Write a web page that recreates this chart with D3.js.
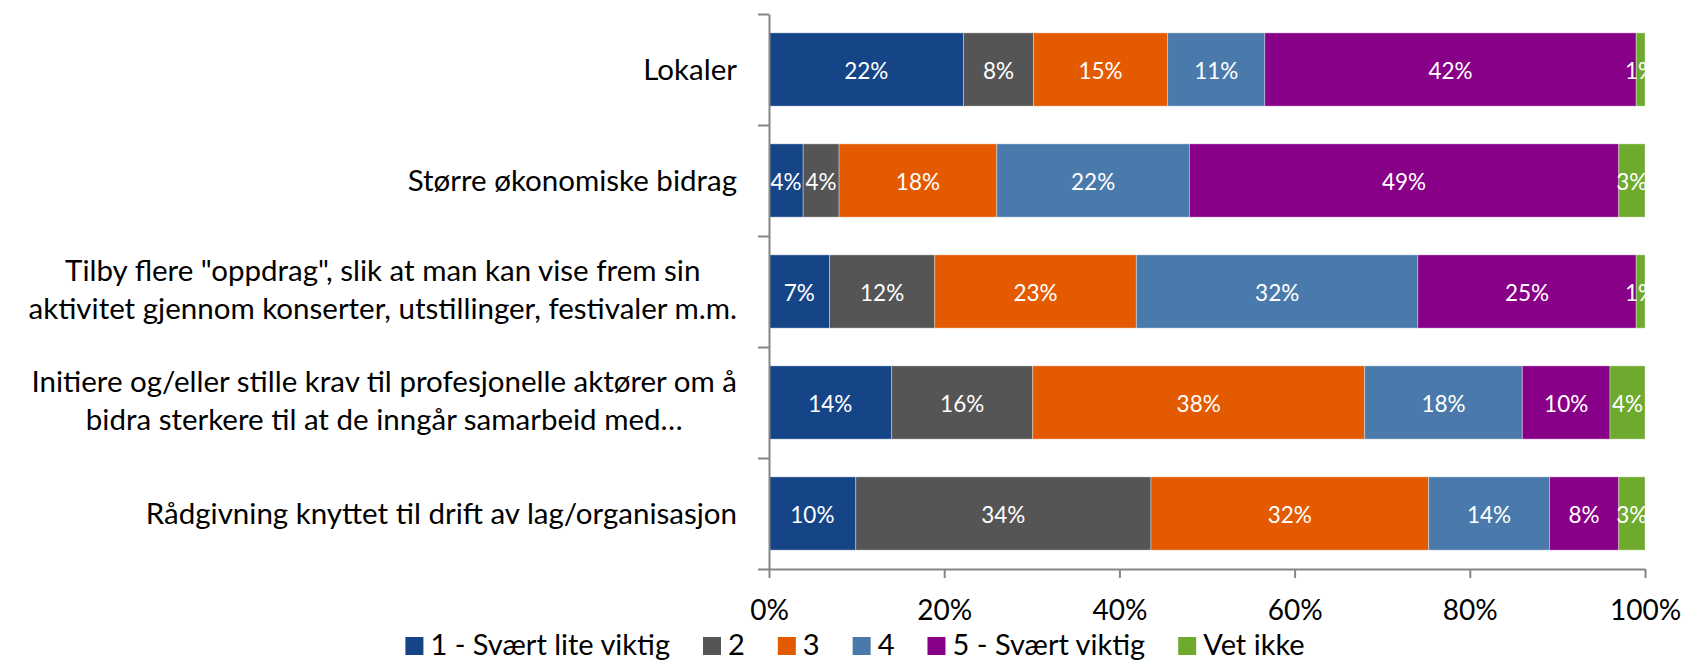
<!DOCTYPE html>
<html lang="no">
<head>
  <meta charset="UTF-8" />
  <title>Viktighet</title>
  <style>
    body { margin: 0; background: #fff; }
    svg text { font-family: Lato, "Open Sans", sans-serif; }
  </style>
</head>
<body>
  <svg id="chart" width="1684" height="660"></svg>

  <script src="https://d3js.org/d3.v7.min.js"></script>
  <script>
    // categories (each one split into the lines shown in the chart)
    const categories = [
      ["Lokaler"],
      ["Større økonomiske bidrag"],
      ["Tilby flere \"oppdrag\", slik at man kan vise frem sin", "aktivitet gjennom konserter, utstillinger, festivaler m.m."],
      ["Initiere og/eller stille krav til profesjonelle aktører om å", "bidra sterkere til at de inngår samarbeid med…"],
      ["Rådgivning knyttet til drift av lag/organisasjon"]
    ];
    const seriesNames = ["1 - Svært lite viktig", "2", "3", "4", "5 - Svært viktig", "Vet ikke"];
    const colors = ["#164587", "#555555", "#e35a00", "#4a7aab", "#890088", "#6eaa2e"];

    // percent values per series, one per category
    const svartLite = [22.2, 3.9, 6.9, 14.0, 9.9];
    const to = [8.0, 4.1, 12.0, 16.1, 33.7];
    const tre = [15.3, 18.0, 23.0, 37.9, 31.7];
    const fire = [11.1, 22.0, 32.1, 18.0, 13.8];
    const svartViktig = [42.4, 49.0, 24.9, 10.0, 7.9];
    const vetIkke = [1.0, 3.0, 1.0, 4.0, 3.0];
    const seriesValues = [svartLite, to, tre, fire, svartViktig, vetIkke];
    const xTicks = [0, 0.2, 0.4, 0.6, 0.8, 1];

    const svg = d3.select("#chart");
    const plotL = 769, plotR = 1645, plotT = 14, plotB = 569;

    const rows = categories.map((c, i) => {
      const r = { key: i };
      seriesNames.forEach((s, j) => { r[s] = seriesValues[j][i]; });
      return r;
    });

    const stacked = d3.stack()
      .keys(seriesNames)
      .offset(d3.stackOffsetExpand)(rows);

    const x = d3.scaleLinear().domain([0, 1]).range([plotL, plotR]);
    const y = d3.scaleBand()
      .domain(categories.map((c, i) => i))
      .range([plotT, plotB])
      .paddingInner(0.34)
      .paddingOuter(0.17);

    svg.append("clipPath").attr("id", "plotclip")
      .append("rect")
      .attr("x", plotL).attr("y", plotT)
      .attr("width", plotR - plotL).attr("height", plotB - plotT);

    const layer = svg.append("g")
      .selectAll("g")
      .data(stacked)
      .join("g")
      .attr("fill", (d, i) => colors[i]);

    layer.selectAll("rect")
      .data(d => d)
      .join("rect")
      .attr("x", d => x(d[0]))
      .attr("y", d => y(d.data.key))
      .attr("width", d => x(d[1]) - x(d[0]))
      .attr("height", y.bandwidth())
      .attr("stroke", "#fff")
      .attr("stroke-opacity", 0.35)
      .attr("stroke-width", 1);

    // value labels inside the segments
    const labels = svg.append("g").attr("clip-path", "url(#plotclip)");
    stacked.forEach((s, j) => {
      labels.selectAll(null)
        .data(s)
        .join("text")
        .attr("x", d => (x(d[0]) + x(d[1])) / 2)
        .attr("y", d => y(d.data.key) + y.bandwidth() / 2 + 9)
        .attr("text-anchor", "middle")
        .attr("font-size", "22.5px")
        .attr("fill", "#fff")
        .text(d => Math.round(seriesValues[j][d.data.key]) + "%");
    });

    // axes
    const yEdges = d3.scaleLinear().domain([0, categories.length]).range([plotT, plotB]);
    const yAxis = svg.append("g")
      .attr("transform", `translate(${plotL},0)`)
      .call(d3.axisLeft(yEdges).tickValues(d3.range(categories.length + 1)).tickSize(11).tickSizeOuter(0).tickFormat(""));

    const xAxis = svg.append("g")
      .attr("transform", `translate(0,${plotB})`)
      .call(d3.axisBottom(x).tickValues(xTicks).tickSize(9).tickSizeOuter(0).tickFormat(d3.format(".0%")));

    [yAxis, xAxis].forEach(a => {
      a.select(".domain").attr("stroke", "#868686").attr("stroke-width", 2);
      a.selectAll(".tick line").attr("stroke", "#868686").attr("stroke-width", 2);
    });
    xAxis.selectAll("text")
      .attr("y", 51).attr("dy", 0)
      .attr("font-size", "28px")
      .attr("font-family", "Lato, sans-serif")
      .attr("fill", "#000");

    // category labels, centred lines of a block right-aligned at the axis
    const labelRight = 737;
    const catG = svg.append("g");
    categories.forEach((lines, i) => {
      const cy = y(i) + y.bandwidth() / 2;
      const t = catG.append("text")
        .attr("font-size", "29.5px")
        .attr("fill", "#000")
        .attr("text-anchor", "middle");
      const first = lines.length === 1 ? cy + 10 : cy - 11;
      lines.forEach((ln, k) => {
        t.append("tspan").attr("x", 0).attr("y", first + k * 38).text(ln);
      });
      const w = d3.max(t.selectAll("tspan").nodes(), n => n.getComputedTextLength());
      t.selectAll("tspan").attr("x", labelRight - w / 2);
    });

    // legend
    const legend = svg.append("g");
    let lx = 0;
    seriesNames.forEach((s, i) => {
      const item = legend.append("g").attr("transform", `translate(${lx},0)`);
      item.append("rect").attr("x", 0).attr("y", 637).attr("width", 18).attr("height", 18).attr("fill", colors[i]);
      const t = item.append("text").attr("x", 25).attr("y", 655)
        .attr("font-size", "29px").attr("fill", "#000").text(s);
      lx += 25 + t.node().getComputedTextLength() + 33;
    });
    const legendWidth = lx - 33;
    legend.attr("transform", `translate(${855 - legendWidth / 2},0)`);
  </script>
</body>
</html>
